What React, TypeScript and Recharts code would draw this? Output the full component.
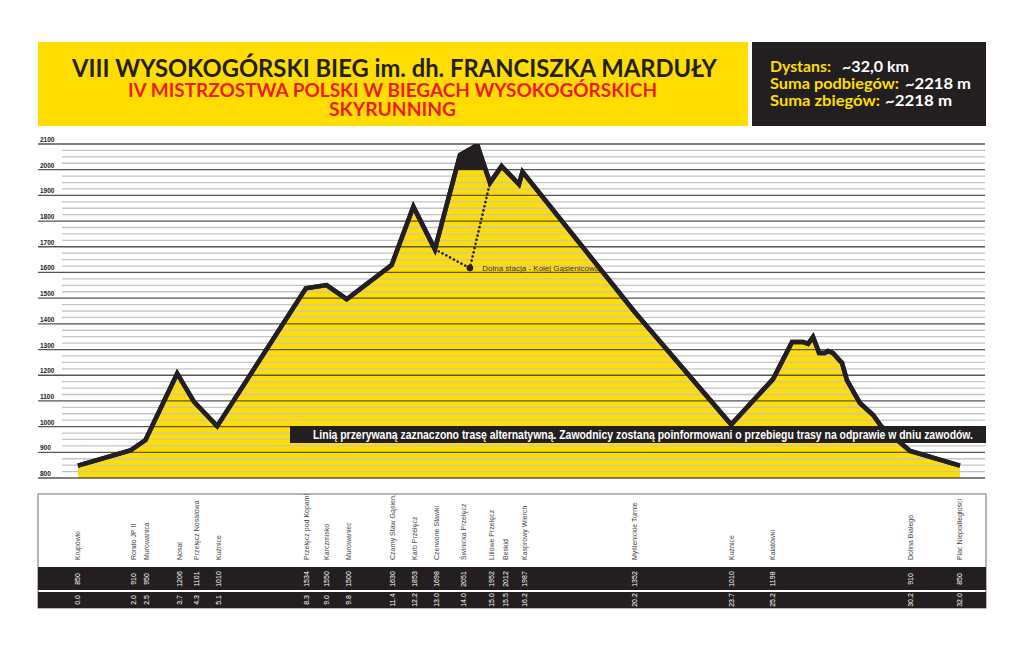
import React from 'react'
import { Area, ComposedChart, Line, ReferenceDot, ReferenceLine, XAxis, YAxis } from 'recharts'

const YELLOW = '#ffdd00'
const DARK = '#231f20'
const RED = '#ed1c24'
const NARROW = '"Liberation Sans Narrow", "Liberation Sans", Arial, sans-serif'
const HEAD = 'Lato, "Open Sans", sans-serif'

// profile vertices (km, m a.s.l.)
const PROFILE_KM = [0, 1.9, 2.45, 3.6, 4.2, 5.05, 8.27, 9.02, 9.75, 11.38, 12.17, 12.95, 13.86, 14.49, 14.95, 15.37, 16.0, 16.13, 20.2, 23.7, 25.22, 25.91, 26.31, 26.49, 26.67, 26.89, 27.1, 27.21, 27.39, 27.72, 27.9, 28.12, 28.37, 28.85, 29.14, 30.19, 32.0]
const PROFILE_ELEV = [848, 907, 948, 1207, 1098, 1002, 1538, 1551, 1496, 1629, 1856, 1690, 2057, 2096, 1949, 2014, 1943, 1992, 1446, 1008, 1185, 1329, 1329, 1322, 1349, 1287, 1287, 1294, 1287, 1248, 1181, 1139, 1092, 1045, 1002, 905, 848]

// alternative (dotted) route via Dolna stacja
const ALT_KM = [12.95, 14.22, 14.95]
const ALT_ELEV = [1690, 1617, 1949]

const STATION_NAMES = ['Krupówki', 'Rondo JP II', 'Murowanica', 'Nosal', 'Przełęcz Nosalowa', 'Kuźnice', 'Przełęcz pod Kopami', 'Karczmisko', 'Murowaniec', 'Czarny Staw Gąsien.', 'Karb Przełęcz', 'Czerwone  Stawki', 'Świnicka Przełęcz', 'Liliowe Przełęcz', 'Beskid', 'Kasprowy Wierch', 'Myślenickie Turnie', 'Kuźnice', 'Kalatówki', 'Dolina Białego', 'Plac Niepodległości']
const STATION_ELEV = [850, 910, 950, 1206, 1101, 1010, 1534, 1550, 1500, 1630, 1853, 1698, 2051, 1952, 2012, 1987, 1352, 1010, 1198, 910, 850]
const STATION_KM = [0.0, 2.0, 2.5, 3.7, 4.3, 5.1, 8.3, 9.0, 9.8, 11.4, 12.2, 13.0, 14.0, 15.0, 15.5, 16.2, 20.2, 23.7, 25.2, 30.2, 32.0]

const MAJOR_TICKS = [800, 900, 1000, 1100, 1200, 1300, 1400, 1500, 1600, 1700, 1800, 1900, 2000, 2100]

const profile = PROFILE_KM.map((km, i) => ({ km, elev: PROFILE_ELEV[i] }))
const alt = ALT_KM.map((km, i) => ({ km, elev: ALT_ELEV[i] }))

const minorTicks: number[] = []
MAJOR_TICKS.slice(0, -1).forEach((v) => {
  minorTicks.push(v + 25, v + 50, v + 75)
})

// black cap above 2000 m inside the fill
const maxElev = Math.max(...PROFILE_ELEV)
const capOffset = (maxElev - 2000) / (maxElev - 800)

const X_DOMAIN: [number, number] = [-1.45, 32.91]
const Y_DOMAIN: [number, number] = [800, 2100]

function StationTick(props: any) {
  const { x, payload } = props
  const i = STATION_KM.indexOf(payload?.value)
  if (i < 0) return null
  const tx = x + 2.5
  return (
    <g fontFamily={NARROW} fontSize={7}>
      <text transform={`translate(${tx},560) rotate(-90)`} textAnchor="start" fill="#444">
        {STATION_NAMES[i]}
      </text>
      <text transform={`translate(${tx},579) rotate(-90)`} textAnchor="middle" fill="#fff">
        {STATION_ELEV[i]}
      </text>
      <text transform={`translate(${tx},600) rotate(-90)`} textAnchor="middle" fill="#fff">
        {STATION_KM[i].toFixed(1)}
      </text>
    </g>
  )
}

const profileLine = (
  <Line
    data={profile}
    dataKey="elev"
    type="linear"
    stroke={DARK}
    strokeWidth={4.5}
    strokeLinejoin="miter"
    dot={false}
    isAnimationActive={false}
  />
)

export default function App() {
  return (
    <div style={{ position: 'absolute', left: 0, top: 0, width: 1024, height: 655, background: '#fff', overflow: 'hidden' }}>
      {/* table frame behind the chart */}
      <svg width={1024} height={655} style={{ position: 'absolute', left: 0, top: 0 }}>
        <rect x={38} y={494} width={948} height={114} fill="#fff" stroke="#888" strokeWidth={1.2} />
        <rect x={38} y={567} width={948} height={23} fill={DARK} />
        <rect x={38} y={592} width={948} height={16} fill={DARK} />
      </svg>

      <div style={{ position: 'absolute', left: 0, top: 0 }}>
        <ComposedChart width={1024} height={655} margin={{ top: 144, right: 39, bottom: 77, left: 38 }}>
          <XAxis
            type="number"
            dataKey="km"
            domain={X_DOMAIN}
            allowDataOverflow
            ticks={STATION_KM}
            interval={0}
            height={100}
            axisLine={false}
            tickLine={false}
            tick={(p: any) => <StationTick {...p} />}
          />
          <YAxis hide type="number" dataKey="elev" domain={Y_DOMAIN} allowDataOverflow />
          <Area
            data={profile}
            dataKey="elev"
            type="linear"
            stroke="none"
            fill={YELLOW}
            fillOpacity={1}
            baseValue={800}
            isAnimationActive={false}
          />
          {minorTicks.map((v) => (
            <ReferenceLine
              key={`m${v}`}
              segment={[{ x: -0.58, y: v }, { x: X_DOMAIN[1], y: v }]}
              stroke="#c4c4c4"
              strokeWidth={1.3}
            />
          ))}
          {MAJOR_TICKS.map((v) => (
            <ReferenceLine
              key={`M${v}`}
              y={v}
              stroke="#555"
              strokeWidth={1.3}
              label={{
                value: String(v),
                position: 'insideBottomLeft',
                offset: 2,
                fontSize: 6.5,
                fontWeight: 700,
                fill: '#222',
                fontFamily: NARROW,
              }}
            />
          ))}
          <Line
            data={alt}
            dataKey="elev"
            type="linear"
            stroke={DARK}
            strokeWidth={2.6}
            strokeDasharray="0.1 4.2"
            strokeLinecap="round"
            dot={false}
            isAnimationActive={false}
          />
          {profileLine}
          <ReferenceDot
            x={ALT_KM[1]}
            y={ALT_ELEV[1]}
            r={3.3}
            fill={DARK}
            stroke="none"
            label={{
              value: 'Dolna stacja - Kolej Gąsienicowa',
              position: 'right',
              offset: 9,
              fontSize: 8,
              fill: '#333',
              fontFamily: NARROW,
            }}
          />
        </ComposedChart>
      </div>

      {/* same scales again: solid black cap above 2000 m, drawn over the grid */}
      <div style={{ position: 'absolute', left: 0, top: 0, pointerEvents: 'none' }}>
        <ComposedChart width={1024} height={655} margin={{ top: 144, right: 39, bottom: 177, left: 38 }}>
          <defs>
            <linearGradient id="capFill" x1="0" y1="0" x2="0" y2="1">
              <stop offset={0} stopColor={DARK} stopOpacity={1} />
              <stop offset={capOffset} stopColor={DARK} stopOpacity={1} />
              <stop offset={capOffset} stopColor={DARK} stopOpacity={0} />
              <stop offset={1} stopColor={DARK} stopOpacity={0} />
            </linearGradient>
          </defs>
          <XAxis hide type="number" dataKey="km" domain={X_DOMAIN} allowDataOverflow />
          <YAxis hide type="number" dataKey="elev" domain={Y_DOMAIN} allowDataOverflow />
          <Area
            data={profile}
            dataKey="elev"
            type="linear"
            stroke="none"
            fill="url(#capFill)"
            fillOpacity={1}
            baseValue={800}
            isAnimationActive={false}
          />
          {profileLine}
        </ComposedChart>
      </div>

      {/* header and note */}
      <svg width={1024} height={655} style={{ position: 'absolute', left: 0, top: 0, pointerEvents: 'none' }}>
        <rect x={38} y={42} width={710} height={84} fill={YELLOW} />
        <rect x={752} y={42} width={234} height={84} fill={DARK} />
        <g fontFamily={HEAD} fontWeight={700}>
          <text x={72} y={77} fontSize={24} fill={DARK} textLength={645} lengthAdjust="spacingAndGlyphs">
            VIII WYSOKOGÓRSKI BIEG im. dh. FRANCISZKA MARDUŁY
          </text>
          <text x={128} y={97} fontSize={18} fill={RED} textLength={529} lengthAdjust="spacingAndGlyphs">
            IV MISTRZOSTWA POLSKI W BIEGACH WYSOKOGÓRSKICH
          </text>
          <text x={329} y={116} fontSize={18} fill={RED} textLength={127} lengthAdjust="spacingAndGlyphs">
            SKYRUNNING
          </text>

          <text x={770} y={72} fontSize={15} fill={YELLOW} textLength={61} lengthAdjust="spacingAndGlyphs">Dystans:</text>
          <text x={842} y={72} fontSize={15} fill="#fff" textLength={67} lengthAdjust="spacingAndGlyphs">~32,0 km</text>
          <text x={770} y={89} fontSize={15} fill={YELLOW} textLength={129} lengthAdjust="spacingAndGlyphs">Suma podbiegów:</text>
          <text x={905} y={89} fontSize={15} fill="#fff" textLength={66} lengthAdjust="spacingAndGlyphs">~2218 m</text>
          <text x={770} y={106} fontSize={15} fill={YELLOW} textLength={110} lengthAdjust="spacingAndGlyphs">Suma zbiegów:</text>
          <text x={885} y={106} fontSize={15} fill="#fff" textLength={67} lengthAdjust="spacingAndGlyphs">~2218 m</text>
        </g>

        <rect x={290} y={426} width={696} height={17} fill={DARK} />
        <text
          x={313}
          y={439}
          fontSize={12}
          fontWeight={700}
          fill="#fff"
          fontFamily={NARROW}
          textLength={660}
          lengthAdjust="spacingAndGlyphs"
        >
          Linią przerywaną zaznaczono trasę alternatywną. Zawodnicy zostaną poinformowani o przebiegu trasy na odprawie w dniu zawodów.
        </text>
      </svg>
    </div>
  )
}
